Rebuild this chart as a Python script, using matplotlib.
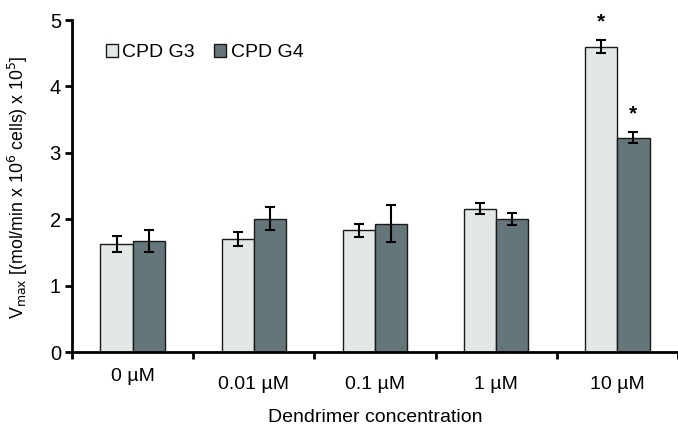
import numpy as np
import matplotlib.pyplot as plt

plt.rcParams['font.family'] = ['Liberation Sans', 'DejaVu Sans']

concentrations = ['0 µM', '0.01 µM', '0.1 µM', '1 µM', '10 µM']
g3_values = [1.63, 1.70, 1.83, 2.16, 4.60]
g3_errors = [0.12, 0.105, 0.095, 0.085, 0.10]
g4_values = [1.67, 2.01, 1.93, 2.01, 3.23]
g4_errors = [0.17, 0.18, 0.28, 0.09, 0.08]
g3_significant = [False, False, False, False, True]
g4_significant = [False, False, False, False, True]

fig = plt.figure(figsize=(6.78, 4.28), dpi=100)
ax = fig.add_axes([72 / 678, 1 - 352 / 428, 606 / 678, 332 / 428])

x = np.arange(len(concentrations))
w = 0.265
err_kw = dict(ecolor='black', elinewidth=1.5, capsize=3.8, capthick=1.5)
b3 = ax.bar(x - w / 2, g3_values, w, yerr=g3_errors, color='#e1e8e6',
            edgecolor='#1a1a1a', linewidth=1.0, error_kw=err_kw, label='CPD G3')
b4 = ax.bar(x + w / 2, g4_values, w, yerr=g4_errors, color='#65767a',
            edgecolor='#1a1a1a', linewidth=1.0, error_kw=err_kw, label='CPD G4')

# significance stars
for i in range(len(x)):
    if g3_significant[i]:
        ax.annotate('*', (x[i] - w / 2, g3_values[i] + g3_errors[i]), xytext=(0, 13),
                    textcoords='offset points', ha='center', va='center',
                    fontsize=15, fontweight='bold', annotation_clip=False)
    if g4_significant[i]:
        ax.annotate('*', (x[i] + w / 2, g4_values[i] + g4_errors[i]), xytext=(0, 13),
                    textcoords='offset points', ha='center', va='center',
                    fontsize=15, fontweight='bold', annotation_clip=False)

ax.set_xlim(-0.5, len(x) - 0.5)
ax.set_ylim(0, 5)
ax.set_yticks([0, 1, 2, 3, 4, 5])
ax.tick_params(axis='y', labelsize=14.5, width=2, length=5, direction='out', pad=3)

# ticks between categories, labels drawn separately
ax.set_xticks(np.arange(len(x) + 1) - 0.5)
ax.set_xticklabels([])
ax.tick_params(axis='x', width=2, length=5, direction='out')
trans = ax.get_xaxis_transform()
for i, lab in enumerate(concentrations):
    yy = -0.075 if i == 0 else -0.099
    ax.text(x[i], yy, lab, transform=trans, ha='center', va='center', fontsize=14)

for s in ['top', 'right']:
    ax.spines[s].set_visible(False)
ax.spines['left'].set_linewidth(2)
ax.spines['bottom'].set_linewidth(2)

ax.set_xlabel('Dendrimer concentration', fontsize=14)
ax.xaxis.set_label_coords(0.5, -0.172)
ax.set_ylabel(r'V$_{\rm max}$ [(mol/min x 10$^6$ cells) x 10$^5$]', fontsize=12.8)
ax.yaxis.set_label_coords(-0.07, 0.497)

ax.legend(loc='upper left', bbox_to_anchor=(0.043, 0.95), ncol=2, frameon=False,
          fontsize=14, handlelength=0.6, handleheight=0.6, handletextpad=0.25,
          columnspacing=1.0, borderaxespad=0)

fig.savefig('out.png', dpi=100)
